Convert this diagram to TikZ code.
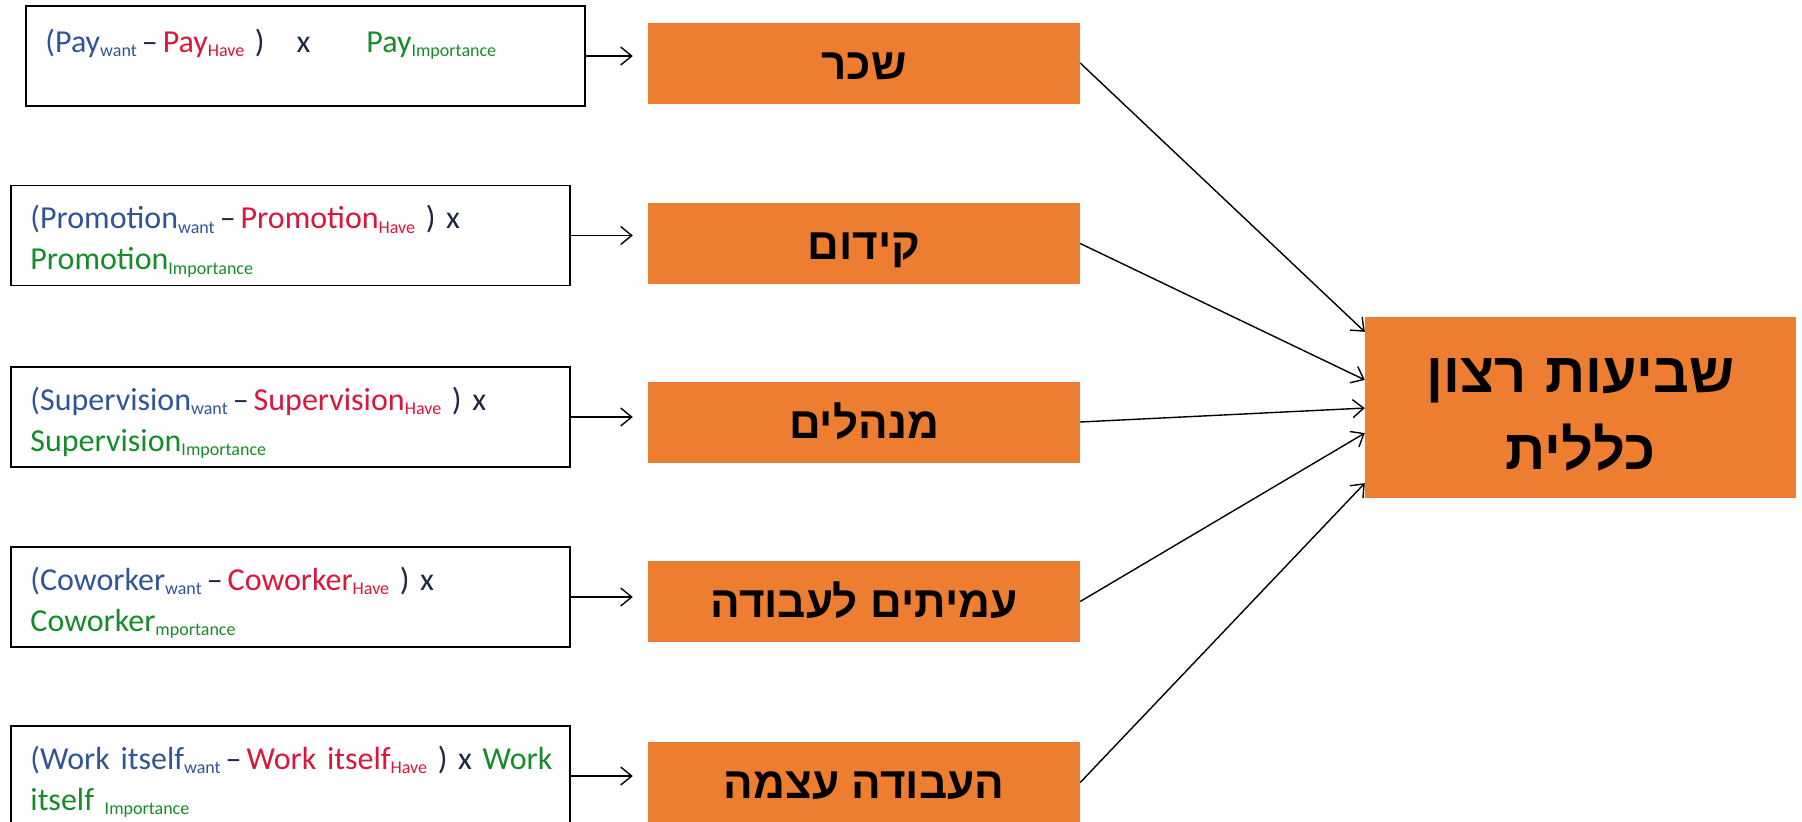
\documentclass[tikz,border=0pt]{standalone}
\usepackage{fontspec}
\setmainfont{Carlito}
\newfontfamily\hebfont[Script=Hebrew]{Liberation Sans}
\TeXXeTstate=1
\usetikzlibrary{arrows.meta,calc}

\definecolor{orng}{RGB}{237,125,49}
\definecolor{fblue}{RGB}{47,85,151}
\definecolor{fred}{RGB}{218,22,58}
\definecolor{fgreen}{RGB}{22,140,40}
\definecolor{fdark}{RGB}{30,40,70}

% font of the formulas, with slightly tighter word spaces
\newcommand{\formfont}{\fontsize{32}{41}\selectfont\spaceskip=6pt plus 1pt\relax}
% subscript in the formulas
\newcommand{\lo}[1]{\raisebox{-0.3ex}{\fontsize{18}{18}\selectfont #1}}
\newcommand{\wantpart}[1]{\textcolor{fblue}{(#1\lo{want}}}
\newcommand{\havepart}[1]{\textcolor{fred}{#1\lo{Have}}}
\newcommand{\subdash}{\textcolor{fdark}{\hspace{5pt}–\hspace{5pt}}}

\tikzset{
  formbox/.style={draw=black, line width=1.5pt, minimum width=559pt, minimum height=100pt, inner sep=0pt},
  formtext/.style={anchor=base west, text width=545pt, align=left, inner sep=0pt, font=\formfont},
  obox/.style={fill=orng, draw=none, minimum width=432pt, minimum height=81pt, inner sep=0pt,
               text height=32pt, text depth=0pt,
               font=\hebfont\bfseries\fontsize{44}{44}\selectfont},
  bigbox/.style={fill=orng, draw=none, minimum width=431pt, minimum height=181pt, inner sep=0pt},
  bigtext/.style={anchor=base, text width=420pt, align=center, inner sep=0pt,
               font=\hebfont\bfseries\fontsize{56}{77}\selectfont},
  arr/.style={-{Straight Barb[length=11pt,width=18pt]}, line width=1.4pt, black},
}

\begin{document}
\begin{tikzpicture}[x=1pt, y=-1pt]
\useasboundingbox (0,0) rectangle (1802,822);
\clip (0,0) rectangle (1802,822);

% formula boxes
\node[formbox] (b1) at (305.5,56) {};
\node[formbox] (b2) at (290.5,235.5) {};
\node[formbox] (b3) at (290.5,417) {};
\node[formbox] (b4) at (290.5,597) {};
\node[formbox] (b5) at (290.5,776) {};

\node[formtext] (l1) at ($(b1.north west)+(20,47)$)
  {\wantpart{Pay}\subdash\havepart{Pay}\textcolor{fdark}{\ )\ \ \ x}\hspace{56pt}\textcolor{fgreen}{Pay\lo{Importance}}};
\node[formtext] (l2) at ($(b2.north west)+(20,44)$)
  {\wantpart{Promotion}\subdash\havepart{Promotion}\textcolor{fdark}{\ ) x}\\
   \textcolor{fgreen}{Promotion\lo{Importance}}};
\node[formtext] (l3) at ($(b3.north west)+(20,44)$)
  {\wantpart{Supervision}\subdash\havepart{Supervision}\textcolor{fdark}{\ ) x}\\
   \textcolor{fgreen}{Supervision\lo{Importance}}};
\node[formtext] (l4) at ($(b4.north west)+(20,44)$)
  {\wantpart{Coworker}\subdash\havepart{Coworker}\textcolor{fdark}{\ ) x}\\
   \textcolor{fgreen}{Coworker\lo{mportance}}};
\node[formtext] (l5) at ($(b5.north west)+(20,44)$)
  {\wantpart{Work itself}\subdash\havepart{Work itself}\textcolor{fdark}{\ ) x} \textcolor{fgreen}{Work}\\
   \textcolor{fgreen}{itself \lo{Importance}}};

% facet boxes
\node[obox] (o1) at (864,63) {\beginR שכר\endR};
\node[obox] (o2) at (864,243.5) {\beginR קידום\endR};
\node[obox] (o3) at (864,422) {\beginR מנהלים\endR};
\node[obox] (o4) at (864,601.5) {\beginR עמיתים לעבודה\endR};
\node[obox] (o5) at (864,782.5) {\beginR העבודה עצמה\endR};

% overall satisfaction
\node[bigbox] (big) at (1580.5,407.5) {};
\node[bigtext] (bigtxt) at ($(big.north)+(0,76)$) {\beginR שביעות רצון\endR\\ \beginR כללית\endR};

% formula -> facet
\foreach \i in {1,...,5}
  \draw[arr, shorten >=15pt] (b\i.east) -- (o\i.west |- b\i.east);

% facet -> overall
\coordinate (t1) at ($(big.north west)!0.083!(big.south west)$);
\coordinate (t2) at ($(big.north west)!0.348!(big.south west)$);
\coordinate (t3) at ($(big.north west)!0.503!(big.south west)$);
\coordinate (t4) at ($(big.north west)!0.641!(big.south west)$);
\coordinate (t5) at ($(big.north west)!0.917!(big.south west)$);
\foreach \i in {1,...,5}
  \draw[arr] (o\i.east) -- (t\i);
\end{tikzpicture}
\end{document}
